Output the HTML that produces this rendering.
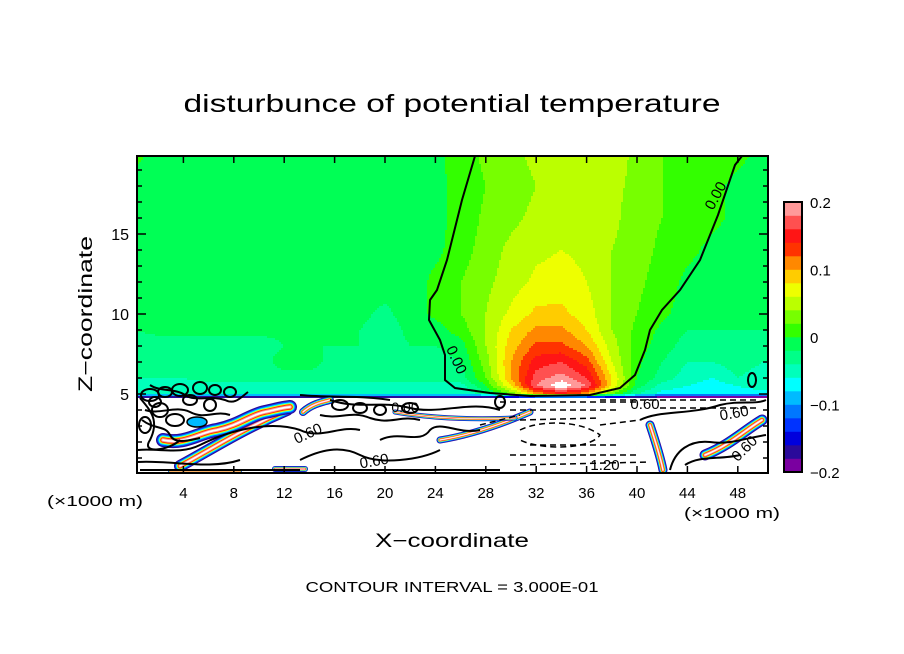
<!DOCTYPE html>
<html><head><meta charset="utf-8"><style>
html,body{margin:0;padding:0;background:#fff;}
svg{display:block;font-family:"Liberation Sans",sans-serif;}
</style></head><body>
<svg id="chart" width="904" height="654" viewBox="0 0 904 654" xmlns="http://www.w3.org/2000/svg">
<rect width="904" height="654" fill="#fff"/>
<text x="452" y="112" text-anchor="middle" font-size="25" textLength="537" lengthAdjust="spacingAndGlyphs">disturbunce of potential temperature</text>
<defs><clipPath id="pc"><rect x="137" y="156" width="631" height="317"/></clipPath></defs>
<g id="field" clip-path="url(#pc)"></g>
<g id="lower" clip-path="url(#pc)"></g>
<g id="axes"></g>
<g id="cbar"></g>
<text transform="translate(92,314) rotate(-90)" text-anchor="middle" font-size="19" textLength="156" lengthAdjust="spacingAndGlyphs">Z−coordinate</text>
<text x="452" y="547" text-anchor="middle" font-size="19" textLength="154" lengthAdjust="spacingAndGlyphs">X−coordinate</text>
<text x="95" y="506" text-anchor="middle" font-size="15" textLength="96" lengthAdjust="spacingAndGlyphs">(×1000 m)</text>
<text x="732" y="518" text-anchor="middle" font-size="15" textLength="96" lengthAdjust="spacingAndGlyphs">(×1000 m)</text>
<text x="452" y="592" text-anchor="middle" font-size="15" textLength="293" lengthAdjust="spacingAndGlyphs">CONTOUR INTERVAL = 3.000E-01</text>
</svg>
<script>
// ---- data ----
const xCoords = [0,2,4,6,8,10,12,14,16,18,20,22,24,26,28,30,32,34,36,38,40,42,44,46,48,50];
const zLevels = [4.4,4.7,5.0,5.5,6,7,8,9,10,12,14,16,18,20];
// theta' in hundredths (0.01 K)
const rowZ44 = [-50,-50,-50,-50,-50,-50,-50,-50,-50,-50,-50,-50,-50,-50,-50,-50,-50,-50,-50,-50,-50,-50,-50,-50,-50,-50];
const rowZ47 = [-25,-25,-25,-25,-25,-25,-25,-25,-25,-25,-25,-25,-25,-25,-25,-25,-25,-25,-25,-25,-25,-25,-25,-25,-25,-25];
const rowZ50 = [-6,-6,-6,-6,-6,-6,-6,-6,-6,-6,-6,-6,-6,-6,-3,2,10,14,10,2,-4,-7,-7,-7,-7,-7];
const rowZ55 = [-5,-5,-5,-5,-5,-5,-5,-5,-5,-5,-5,-5,-5,-5,0,8,18,22,18,8,-1,-5,-6,-7,-6,-5];
const rowZ60 = [-4,-4,-4,-3,-3,-3,-3,-3,-3,-3,-3,-3,-3,-3,2,10,17,19,16,8,0,-3,-5,-6,-4,-5];
const rowZ70 = [-3,-3,-3,-3,-3,-3,-1,-1,-3,-3,-3,-3,-3,-2,3,10,15,16,13,6,0.5,-2,-4,-4,-3,-4];
const rowZ80 = [-3,-3,-3,-3,-3,-3,-2,-2,-2,-2,-3,-2,-2,-1,4,9,12.5,12.5,10,5,1,-1,-3,-3,-2,-3];
const rowZ90 = [-2,-1.5,-1.5,-1.5,-1.5,-1.5,-1.5,-1.5,-1.5,-2,-3,-1.5,-1,1,4,8,10.5,10.5,8,4,1.5,-0.5,-2,-2,-2,-2];
const rowZ100 = [-2,-2,-1,-1,-1,-1,-1,-1,-1,-1.5,-2.5,-1,0.5,2,4,6.5,8.5,8.5,7,4,2,0.5,-1,-1,-1.5,-1.5];
const rowZ120 = [-1,-1,-1,-1,-1,-1,-1,-1,-1,-1,-1,-1,0.5,2,3.5,5,6.5,7,6,4,2.5,1,-0.5,-1,-1,-1];
const rowZ140 = [-1,-1,-1,-1,-1,-1,-1,-1,-1,-1,-1,-1,-0.5,1,3,4.5,5.5,6,5.5,4,3,1.5,0.5,-0.5,-1,-1];
const rowZ160 = [-1,-1,-1,-1,-1,-1,-1,-1,-1,-1,-1,-1,-0.5,0.5,2.5,3.5,4.5,5,5,4.5,3,2,1,0.5,-0.5,-1];
const rowZ180 = [-0.5,-1,-1,-1,-1,-1,-1,-1,-1,-1,-1,-1,-0.5,0.5,2,3,4,5,5,4.5,3.5,2,1.5,0.5,-0.5,-1];
const rowZ200 = [0.5,-0.5,-1,-1,-1,-1,-1,-1,-1,-1,-1,-1,-0.5,1,2.5,3.5,4.5,5,5,5,3.5,2,1.5,1,0.5,-0.5];
const fieldRows = [rowZ44,rowZ47,rowZ50,rowZ55,rowZ60,rowZ70,rowZ80,rowZ90,rowZ100,rowZ120,rowZ140,rowZ160,rowZ180,rowZ200];
const colorLevels = ["#7a00a0","#2a0a9a","#0000dd","#0033ff","#0077ff","#00bbff","#00ffff","#00ffbb","#00ff88","#00ff55","#33ff00","#77ff00","#bbff00","#eeff00","#ffcc00","#ff8800","#ff3300","#ff1515","#ff5050","#ff9999"];
const cbarLabels = ["0.2","0.1","0","−0.1","−0.2"];
const cbarLabelValues = [0.2,0.1,0,-0.1,-0.2];
const xTickLabels = [4,8,12,16,20,24,28,32,36,40,44,48];
const yTickLabels = [5,10,15];

// ---- scales ----
const X0=137,X1=768,Y0=156,Y1=473;
const sx = x => 133 + 12.6*x;
const sz = z => 474 - 16*z;
const ix = px => (px-133)/12.6;
const iz = py => (474-py)/16;
const NS="http://www.w3.org/2000/svg";
function mk(tag,attrs,parent){const e=document.createElementNS(NS,tag);for(const k in attrs)e.setAttribute(k,attrs[k]);parent.appendChild(e);return e;}

function sample(x,z){
  if(z<zLevels[0]) return -50;
  let j=0; while(j<zLevels.length-2 && z>zLevels[j+1]) j++;
  let tz=(z-zLevels[j])/(zLevels[j+1]-zLevels[j]); tz=Math.max(0,Math.min(1,tz));
  let xi=Math.max(0,Math.min(xCoords.length-1.0001,x/2));
  let i=Math.floor(xi), tx=xi-i;
  const a=fieldRows[j][i]*(1-tx)+fieldRows[j][i+1]*tx;
  const b=fieldRows[j+1][i]*(1-tx)+fieldRows[j+1][i+1]*tx;
  return a*(1-tz)+b*tz;
}
const fg=document.getElementById('field');
const cell=2;
for(let py=Y0;py<Y1;py+=cell){
  let runStart=X0, runCol=null;
  const flush=(end)=>{ if(runCol){const r=mk('rect',{x:runStart,y:py,width:end-runStart,height:cell,fill:runCol},fg);
    
    } };
  let px=X0;
  for(;px<X1+cell;px+=cell){
    const v=sample(ix(px+1),iz(py+1));
    const col=(v>=-20 && v<20)?colorLevels[Math.floor((v+20)/2)]:null;
    if(col!==runCol){flush(px);runStart=px;runCol=col;}
  }
  flush(px);
}

// ---- lower layer streaks & contours ----
const lg=document.getElementById('lower');
function streak(d,w){
  const layers=[[w,"#2a0a9a"],[w*0.82,"#0055ff"],[w*0.66,"#00ffff"],[w*0.52,"#eeff00"],[w*0.4,"#ff3300"],[w*0.26,"#ff9999"],[w*0.12,"#ffffff"]];
  layers.forEach(l=>{const p=mk('path',{d:d,fill:"none",stroke:l[1],"stroke-width":l[0],"stroke-linecap":"round","stroke-linejoin":"round"},lg);
    
    });
}
streak("M180,466 C210,450 240,430 287,410",12);
streak("M163,440 C185,445 200,432 217,430 C240,425 250,415 265,412 C275,410 280,408 290,407",14);
streak("M303,412 C312,404 322,402 330,400",8);
streak("M440,440 C470,435 500,425 530,412",7);
streak("M395,412 C430,418 470,420 515,418",5);
streak("M650,425 C655,440 660,455 663,470",9);
streak("M705,455 C730,445 745,430 762,420",11);
streak("M275,469 L305,469",6);
streak("M170,471 L240,471",4);
const bb=mk('ellipse',{cx:197,cy:422,rx:10,ry:5,fill:"#00bbff",stroke:"#000","stroke-width":1.5},lg);


const contourPaths=[
 "M140,398 C150,410 160,420 150,440 C140,455 170,450 180,440",
 "M150,385 C160,392 175,388 185,395 C195,402 210,395 225,400 C235,405 240,398 248,392",
 "M145,410 C160,415 175,405 190,412 C205,420 215,410 230,415",
 "M142,420 C155,430 165,425 170,435 C175,445 190,440 200,438",
 "M138,450 C160,448 180,455 200,445 C230,430 270,420 300,430 C320,440 340,425 360,430",
 "M138,462 C170,460 210,470 240,460",
 "M300,460 C320,450 340,445 360,455 C380,465 420,460 440,450",
 "M330,400 C360,410 380,400 410,408 C440,415 470,400 500,410",
 "M300,395 C330,398 360,395 390,400",
 "M320,415 C340,420 350,410 370,418 C390,425 400,415 420,420",
 "M380,440 C400,430 420,445 430,430 C440,420 460,435 480,430",
 "M140,470 L300,470 M320,470 L500,470",
 "M640,420 C660,410 690,415 720,405 C740,400 755,405 766,400",
 "M670,470 C675,450 690,440 710,442 C730,445 745,438 766,435",
 "M685,465 C700,455 720,460 740,455"
];
contourPaths.forEach(d=>{const p=mk('path',{d:d,fill:"none",stroke:"#000","stroke-width":2},lg);
  
  });
const dashed=[
 "M500,402 L640,402","M510,410 L620,410","M520,420 L600,418","M520,430 C540,420 580,420 600,435 C590,450 540,450 520,440",
 "M530,445 L620,445","M510,455 L640,455","M520,465 L650,462","M600,400 L760,400","M660,408 L760,408","M480,425 L520,415","M600,425 L640,420"
];
dashed.forEach(d=>{const p=mk('path',{d:d,fill:"none",stroke:"#000","stroke-width":1.5,"stroke-dasharray":"6,4"},lg);
  
  });
[[150,395,9,6],[165,392,7,5],[180,390,8,6],[200,388,7,6],[215,390,6,5],[230,392,6,5],[160,410,8,7],[175,420,9,6],[145,425,6,8],[155,402,6,5],[190,400,7,5],[210,405,6,6],[340,405,8,5],[360,408,7,5],[380,410,6,5],[410,408,8,5],[500,402,5,6]].forEach(c=>{
  const e=mk('ellipse',{cx:c[0],cy:c[1],rx:c[2],ry:c[3],fill:"none",stroke:"#000","stroke-width":2},lg);
  
  });

const zc=mk('path',{d:"M475,156 L462,200 L447,260 L437,290 L430,300 L429,320 L440,340 L445,355 L445,380 L455,388 L490,393 L530,396 L590,395 L620,388 L635,375 L645,350 L650,330 L662,310 L680,290 L700,260 L718,215 L735,165 L742,156",fill:"none",stroke:"#000","stroke-width":2},lg);

const zl=mk('ellipse',{cx:752,cy:380,rx:4,ry:7,fill:"none",stroke:"#000","stroke-width":2},lg);

function lab(t,x,y,rot,fs){const e=mk('text',{x:0,y:0,transform:`translate(${x},${y}) rotate(${rot})`,"font-size":fs,"text-anchor":"middle",fill:"#000"},lg);e.textContent=t;
  }
lab("0.00",452,362,65,15);lab("0.00",720,198,-62,15);
lab("0.60",310,438,-25,15);lab("0.60",375,466,-10,15);lab("0.60",645,409,0,15);
lab("0.60",735,418,-10,15);lab("0.60",748,452,-45,15);lab("1.20",605,470,0,15);lab("0.00",405,412,0,14);

// ---- axes ----
const ax=document.getElementById('axes');
const fr=mk('rect',{x:X0,y:Y0,width:X1-X0,height:Y1-Y0,fill:"none",stroke:"#000","stroke-width":2},ax);

xTickLabels.forEach(v=>{
  const x=sx(v);
  mk('line',{x1:x,y1:Y0,x2:x,y2:Y0+7,stroke:"#000","stroke-width":1.5},ax);
  mk('line',{x1:x,y1:Y1,x2:x,y2:Y1-7,stroke:"#000","stroke-width":1.5},ax);
  const t=mk('text',{x:x,y:498,"text-anchor":"middle","font-size":15},ax);t.textContent=v;
  
});
for(let z=1;z<=19;z++){
  const y=sz(z), L=(z%5===0)?9:5;
  mk('line',{x1:X0,y1:y,x2:X0+L,y2:y,stroke:"#000","stroke-width":1.5},ax);
  mk('line',{x1:X1,y1:y,x2:X1-L,y2:y,stroke:"#000","stroke-width":1.5},ax);
}
yTickLabels.forEach(v=>{
  const t=mk('text',{x:129,y:sz(v)+6,"text-anchor":"end","font-size":16},ax);t.textContent=v;
  
});

// ---- colorbar ----
const cb=document.getElementById('cbar');
const CB0=202,CB1=472,CBX=784,CBW=18;
const cby=v=>CB1-(v+0.2)/0.4*(CB1-CB0);
colorLevels.forEach((c,i)=>{
  const lo=-0.2+i*0.02;
  const r=mk('rect',{x:CBX,y:cby(lo+0.02),width:CBW,height:cby(lo)-cby(lo+0.02)+0.3,fill:c},cb);
  
});
mk('rect',{x:CBX,y:CB0,width:CBW,height:CB1-CB0,fill:"none",stroke:"#000","stroke-width":2},cb);
cbarLabels.forEach((s,i)=>{
  const t=mk('text',{x:810,y:cby(cbarLabelValues[i])+6,"font-size":15},cb);t.textContent=s;
  
});
</script>
</body></html>
